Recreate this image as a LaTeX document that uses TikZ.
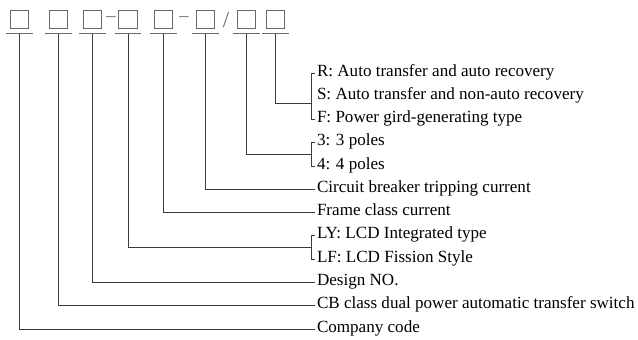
\documentclass[tikz,border=0pt]{standalone}
\usepackage{fontspec}
\setmainfont{Liberation Serif}
\usepackage{tikz}
\usetikzlibrary{calc}
\definecolor{wiregray}{HTML}{3A3A3A}
\definecolor{slotgray}{HTML}{6A6A6A}

\begin{document}
\begin{tikzpicture}[
    x=0.75pt,y=-0.75pt,
    slot/.style={draw=slotgray,line width=0.75pt,minimum width=14.2pt,minimum height=12.8pt,inner sep=0pt},
    joint/.style={inner sep=0pt,text=slotgray,font=\fontsize{14}{16}\selectfont},
    note/.style={anchor=west,inner sep=0pt,outer sep=1.5pt,text height=0.68em,text depth=0.22em,font=\fontsize{12.8}{15}\selectfont},
    tie/.style={draw=slotgray,line width=0.75pt},
    lead/.style={draw=wiregray,line width=0.7pt}
  ]
    \useasboundingbox (0,0) rectangle (638,339);
    % code slots
    \node[slot] (s1) at (19.5,19.5) {};
    \node[slot] (s2) at (58.5,19.5) {};
    \node[slot] (s3) at (92.5,19.5) {};
    \node[joint] (d1) at (111,19.5) {–};
    \node[slot] (s4) at (128,19.5) {};
    \node[slot] (s5) at (163.5,19.5) {};
    \node[joint] (d2) at (184,19.5) {–};
    \node[slot] (s6) at (205.5,19.5) {};
    \node[joint,font=\fontsize{17}{19}\selectfont] (sl) at (226,20) {/};
    \node[slot] (s7) at (246.5,19.5) {};
    \node[slot] (s8) at (275.5,19.5) {};
    \foreach \s in {1,...,8}{
      \draw[tie] ([xshift=-2.6pt,yshift=-3.75pt]s\s.south west) -- ([xshift=2.6pt,yshift=-3.75pt]s\s.south east);
      \coordinate (u\s) at ([yshift=-3.75pt]s\s.south);
    }
    % meanings
    \node[note] (rlab) at (315,73) {R: Auto transfer and auto recovery};
    \node[note] (slab) at (315,96.3) {S: Auto transfer and non-auto recovery};
    \node[note] (flab) at (315,119.5) {F: Power gird-generating type};
    \node[note] (p3) at (315,142.8) {3: 3 poles};
    \node[note] (p4) at (315,166.1) {4: 4 poles};
    \node[note] (trip) at (315,189.4) {Circuit breaker tripping current};
    \node[note] (frame) at (315,212.6) {Frame class current};
    \node[note] (ly) at (315,235.9) {LY: LCD Integrated type};
    \node[note] (lf) at (315,259.2) {LF: LCD Fission Style};
    \node[note] (design) at (315,282.5) {Design NO.};
    \node[note] (cb) at (315,305.7) {CB class dual power automatic transfer switch};
    \node[note] (company) at (315,329) {Company code};
    % brackets
    \draw[lead] (rlab.west) -- ++(-3pt,0) |- (flab.west);
    \draw[lead] (p3.west) -- ++(-3pt,0) |- (p4.west);
    \draw[lead] (ly.west) -- ++(-3pt,0) |- (lf.west);
    % leaders
    \draw[lead] (u8) |- ([xshift=-3pt,yshift=-5pt]slab.west);
    \draw[lead] (u7) |- ($(p3.west)!0.5!(p4.west)+(-3pt,0)$);
    \draw[lead] (u6) |- (trip.west);
    \draw[lead] (u5) |- (frame.west);
    \draw[lead] (u4) |- ($(ly.west)!0.5!(lf.west)+(-3pt,0)$);
    \draw[lead] (u3) |- (design.west);
    \draw[lead] (u2) |- (cb.west);
    \draw[lead] (u1) |- (company.west);
\end{tikzpicture}
\end{document}
